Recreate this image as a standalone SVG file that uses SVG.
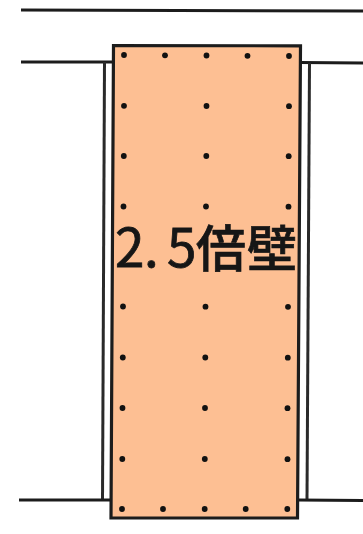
<svg xmlns="http://www.w3.org/2000/svg" width="363" height="534" viewBox="0 0 363 534">
<style>
.l{fill:none;stroke:#1c1c1c;stroke-width:3}
.s{fill:none;stroke:#2a2a2a;stroke-width:3}
.d{fill:#111}
.t{font-family:"Noto Sans CJK JP","Noto Sans",sans-serif;font-size:50px;font-weight:500;fill:#161616;stroke:#161616;stroke-width:.7}
.n{font-size:53px;stroke-width:.8;font-weight:400}
</style>
<rect width="363" height="534" fill="#fff"/>
<g id="connectors">
<path class="l" d="M21 10 L363 11"/>
<path class="l" d="M21 62 L113 62"/>
<path class="l" d="M300 62.500 L363 63"/>
<path class="s" d="M104.500 62 L102.500 500"/>
<path class="s" d="M309.500 63 L307 500"/>
<path class="l" d="M19 500 L112 500"/>
<path class="l" d="M298 500 L363 500.500"/>
</g>
<g id="panel">
<path d="M113.500 45.500 L300.500 45.800 L297.500 518 L111 518 Z" fill="#fdbf93" stroke="#1c1c1c" stroke-width="3.200"/>
<g id="nails">
<circle class="d" cx="124" cy="55" r="2.900"/><circle class="d" cx="165" cy="55.300" r="2.900"/><circle class="d" cx="206.500" cy="55.500" r="2.900"/><circle class="d" cx="247.500" cy="55.800" r="2.900"/><circle class="d" cx="289" cy="56" r="2.900"/>
<circle class="d" cx="124" cy="105.800" r="2.900"/><circle class="d" cx="206.500" cy="106" r="2.900"/><circle class="d" cx="289" cy="106.200" r="2.900"/>
<circle class="d" cx="123.800" cy="156" r="2.900"/><circle class="d" cx="206.300" cy="156" r="2.900"/><circle class="d" cx="288.700" cy="156.200" r="2.900"/>
<circle class="d" cx="123.500" cy="206.500" r="2.900"/><circle class="d" cx="206" cy="206.500" r="2.900"/><circle class="d" cx="288.500" cy="206.700" r="2.900"/>
<circle class="d" cx="123" cy="306.500" r="2.900"/><circle class="d" cx="205.500" cy="306.700" r="2.900"/><circle class="d" cx="288" cy="306.800" r="2.900"/>
<circle class="d" cx="122.800" cy="357.500" r="2.900"/><circle class="d" cx="205.300" cy="357.500" r="2.900"/><circle class="d" cx="287.800" cy="357.700" r="2.900"/>
<circle class="d" cx="122.500" cy="408" r="2.900"/><circle class="d" cx="205" cy="408" r="2.900"/><circle class="d" cx="287.500" cy="408.200" r="2.900"/>
<circle class="d" cx="122.300" cy="459" r="2.900"/><circle class="d" cx="204.800" cy="459" r="2.900"/><circle class="d" cx="287.500" cy="459.200" r="2.900"/>
<circle class="d" cx="122" cy="509" r="2.900"/><circle class="d" cx="163" cy="509" r="2.900"/><circle class="d" cx="204.700" cy="509" r="2.900"/><circle class="d" cx="245.700" cy="509" r="2.900"/><circle class="d" cx="287.300" cy="509" r="2.900"/>
</g>
<text class="t" y="267"><tspan class="n" x="115 144 167">2.5</tspan><tspan x="196 247" y="267">倍壁</tspan></text>
</g>
</svg>
